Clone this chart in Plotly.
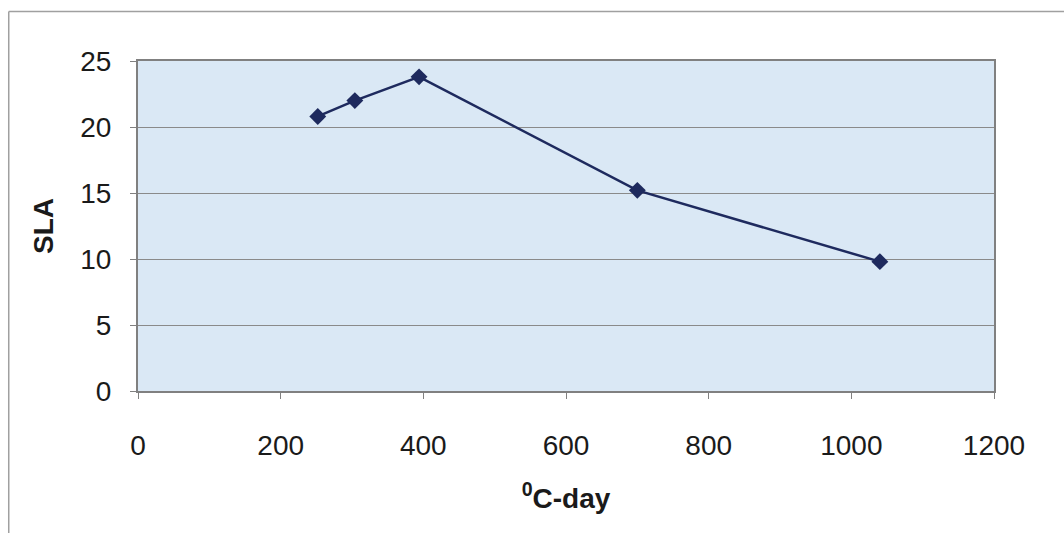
import plotly.graph_objects as go

# Specific leaf area over thermal time
degree_days = [252, 304, 394, 700, 1040]
sla_values = [20.8, 22.0, 23.8, 15.2, 9.8]

x_ticks = [0, 200, 400, 600, 800, 1000, 1200]
y_ticks = [0, 5, 10, 15, 20, 25]

fig = go.Figure()
fig.add_trace(go.Scatter(
    x=degree_days, y=sla_values,
    mode="lines+markers",
    line=dict(color="#1e2a5e", width=2.5),
    marker=dict(symbol="diamond", size=13, color="#1e2a5e"),
    showlegend=False,
))

axis_font = dict(family="Liberation Sans, Arial, sans-serif", size=28, color="#1a1a1a")
title_font = dict(family="Liberation Sans, Arial, sans-serif", size=28, color="#1a1a1a")

fig.update_xaxes(
    range=[0, 1200], tickvals=x_ticks, ticktext=[str(v) for v in x_ticks],
    showgrid=False, zeroline=False,
    showline=True, linecolor="#808080", linewidth=2, mirror=True,
    ticks="outside", ticklen=6, tickcolor="#808080",
    ticklabelstandoff=22, tickfont=axis_font,
    title=dict(text="<b><sup>0</sup>C-day</b>", font=title_font, standoff=29),
)
fig.update_yaxes(
    range=[0, 25], tickvals=y_ticks, ticktext=[str(v) for v in y_ticks],
    showgrid=True, gridcolor="#8a8a8a", gridwidth=1.2, zeroline=False,
    showline=True, linecolor="#808080", linewidth=2, mirror=True,
    ticks="outside", ticklen=6, tickcolor="#808080",
    ticklabelstandoff=13, tickfont=axis_font,
    title=dict(text="<b>SLA</b>", font=title_font, standoff=18),
)

# outer chart frame (left and top edges)
fig.add_shape(type="line", xref="paper", yref="paper",
              x0=-0.151, x1=1.1, y0=1.15, y1=1.15,
              line=dict(color="#a0a0a0", width=1.5))
fig.add_shape(type="line", xref="paper", yref="paper",
              x0=-0.151, x1=-0.151, y0=1.15, y1=-0.45,
              line=dict(color="#a0a0a0", width=1.5))

fig.update_layout(
    width=1064, height=533,
    margin=dict(l=138, r=70, t=61, b=142),
    paper_bgcolor="white",
    plot_bgcolor="#dae8f5",
)

fig.write_html("out.html")
